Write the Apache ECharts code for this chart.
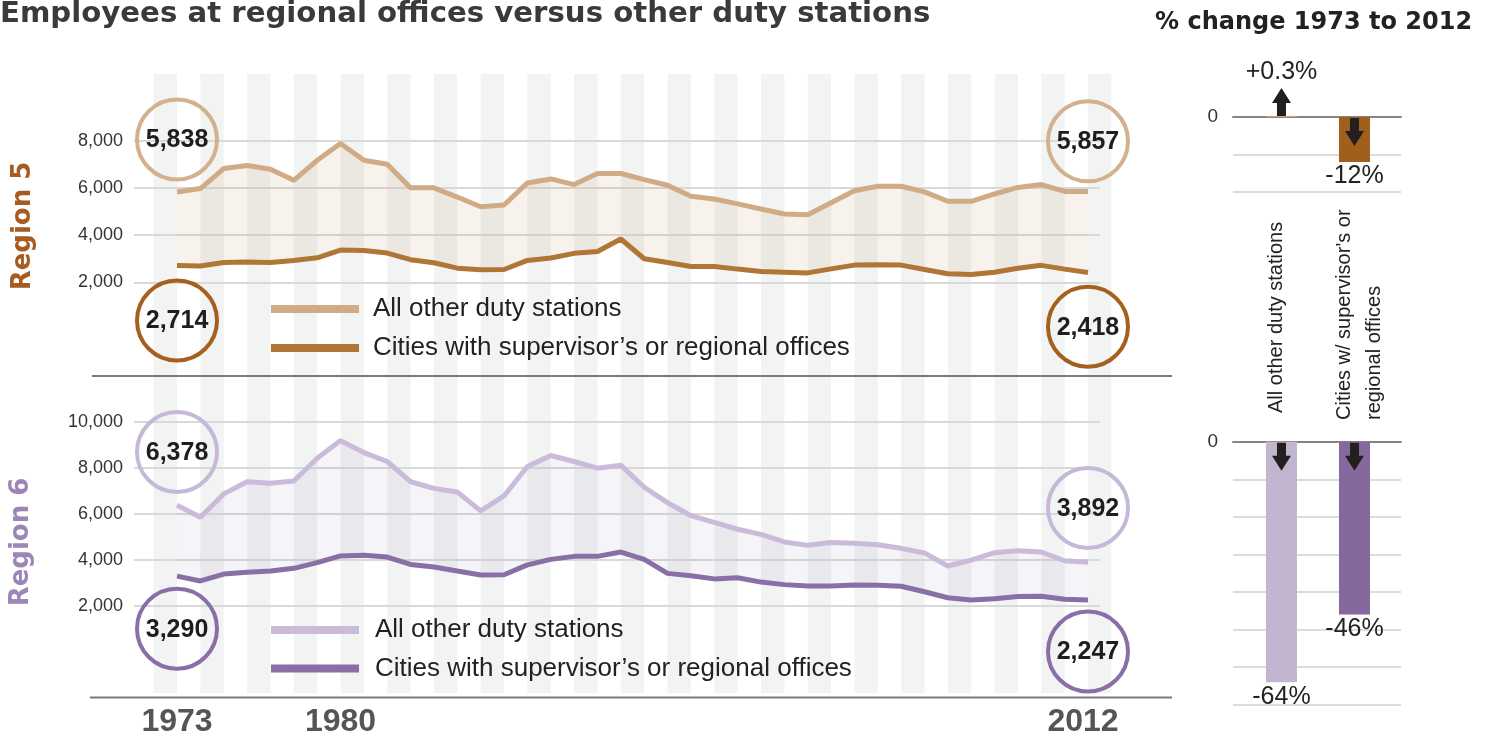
<!DOCTYPE html>
<html>
<head>
<meta charset="utf-8">
<script src="https://cdn.jsdelivr.net/npm/echarts@6/dist/echarts.min.js"></script>
<style>
html,body{margin:0;padding:0;background:#fff;}
#c{width:1487px;height:736px;}
</style>
</head>
<body>
<div id="c"></div>
<script>
// ---------- data ----------
const years = [1973,1974,1975,1976,1977,1978,1979,1980,1981,1982,1983,1984,1985,1986,1987,1988,1989,1990,1991,1992,
               1993,1994,1995,1996,1997,1998,1999,2000,2001,2002,2003,2004,2005,2006,2007,2008,2009,2010,2011,2012];
const r5Other  = [5838,5980,6830,6960,6800,6330,7180,7890,7180,7010,6010,6010,5620,5210,5280,6220,6390,6150,6620,6620,
                  6360,6120,5650,5540,5330,5110,4900,4870,5380,5890,6080,6080,5840,5440,5440,5750,6030,6150,5860,5857];
const r5Cities = [2714,2690,2840,2860,2840,2930,3040,3370,3350,3240,2960,2830,2600,2530,2545,2930,3030,3230,3310,3840,
                  3000,2840,2670,2670,2560,2460,2430,2400,2570,2730,2740,2730,2545,2360,2330,2430,2600,2720,2560,2418];
const r6Other  = [6378,5850,6870,7400,7330,7430,8420,9190,8670,8280,7400,7110,6950,6130,6780,8060,8540,8280,7990,8120,
                  7160,6490,5920,5630,5330,5110,4780,4630,4750,4720,4660,4500,4300,3730,3990,4310,4400,4340,3960,3892];
const r6Cities = [3290,3080,3380,3460,3510,3630,3880,4170,4200,4120,3800,3690,3510,3340,3350,3780,4020,4150,4150,4340,
                  4020,3410,3310,3170,3220,3030,2920,2860,2860,2900,2890,2850,2610,2350,2250,2310,2400,2410,2280,2247];
const seriesNames = ['All other duty stations', 'Cities with supervisor\u2019s or regional offices'];
const changeCats = ['All other duty stations', "Cities w/ supervisor's or", 'regional offices'];
const r5Change = [0.3, -12];
const r6Change = [-64, -46];
const yearLabels = [1973, 1980, 2012];
const regionNames = ['Region 5', 'Region 6'];

// ---------- styling ----------
const C5 = {other:'#d1ab85', cities:'#b07636', circOther:'#d4b18e', circCities:'#a6601d', bar:['#cfa87f','#a0601c'], fill:'rgba(190,150,100,0.12)', title:'#a65c20'};
const C6 = {other:'#c9bbd9', cities:'#8a6fa7', circOther:'#c6b8d7', circCities:'#8a6ea7', bar:['#c1b5d0','#84699e'], fill:'rgba(130,120,170,0.08)', title:'#9c86b8'};
const FF = "'Liberation Sans', Arial, sans-serif";
const fmt = v => v.toLocaleString('en-US');

const xMin = 1971.159, xMax = 2012.514;

function regionSeries(idx, other, cities, col) {
  const pair = arr => arr.map((v,i) => [years[i], v]);
  return [
    {type:'custom', xAxisIndex:idx, yAxisIndex:idx, silent:true, z:2,
     data:[[years[0], cities[0]]],
     renderItem:(params, api) => {
       const pts = [];
       other.forEach((v,i) => pts.push(api.coord([years[i], v])));
       for (let i = cities.length - 1; i >= 0; i--) pts.push(api.coord([years[i], cities[i]]));
       return {type:'polygon', shape:{points:pts}, style:{fill:col.fill}};
     }},
    {type:'line', name:seriesNames[0], xAxisIndex:idx, yAxisIndex:idx, data: pair(other), symbol:'none',
     lineStyle:{color:col.other, width:5}, z:3},
    {type:'line', name:seriesNames[1], xAxisIndex:idx, yAxisIndex:idx, data: pair(cities), symbol:'none',
     lineStyle:{color:col.cities, width:5}, z:4}
  ];
}

function barSeries(idx, vals, col) {
  return {
    type:'bar', xAxisIndex:idx, yAxisIndex:idx, barWidth:31, clip:false, z:3,
    data: vals.map((v,i) => ({
      value:[i, v],
      itemStyle:{color: col.bar[i]},
      label:{show:true, position: v >= 0 ? 'top' : 'bottom', distance: v >= 0 ? 31 : 2,
             formatter: () => (v > 0 ? '+' : '') + v + '%',
             fontFamily: FF, fontSize: 25, color:'#222'}
    }))
  };
}

const hiddenX = (gi) => ({gridIndex:gi, type:'value', min:xMin, max:xMax, show:false});
const regionY = (gi, max) => ({
  gridIndex:gi, type:'value', min:0, max:max, interval:2000, z:1,
  axisLine:{show:false}, axisTick:{show:false},
  axisLabel:{showMinLabel:false, margin:11, fontFamily:FF, fontSize:18, color:'#333', formatter: v => fmt(v)},
  splitLine:{show:true, showMinLine:false, lineStyle:{color:'#d9d9d9', width:2}}
});
const barX = (gi) => ({gridIndex:gi, type:'value', min:-0.664, max:1.637, position:'top',
  axisLine:{show:true, onZero:true, lineStyle:{color:'#858585', width:2}},
  axisTick:{show:false}, axisLabel:{show:false}, splitLine:{show:false}, z:2});
const barY = (gi, min) => ({gridIndex:gi, type:'value', min:min, max:0, interval:10,
  axisLine:{show:false}, axisTick:{show:false},
  axisLabel:{margin:15, fontFamily:FF, fontSize:19, color:'#333', formatter: v => v === 0 ? '0' : ''},
  splitLine:{show:true, lineStyle:{color:'#dcdcdc', width:2}}});

const chart = echarts.init(document.getElementById('c'), null, {renderer:'canvas'});
const option = {
  animation:false,
  backgroundColor:'#fff',
  grid:[
    {left:153.64, top:74, width:957.76, height:619},
    {left:134, top:141, width:966, height:188.4},
    {left:134, top:422, width:966, height:229.7},
    {left:1233, top:117, width:168, height:75},
    {left:1233, top:441.8, width:168, height:262.9}
  ],
  xAxis:[
    {gridIndex:0, type:'value', min:1972, max:2013, interval:1, z:0,
     axisLine:{show:false}, axisTick:{show:false}, axisLabel:{show:false}, splitLine:{show:false},
     splitArea:{show:true, areaStyle:{color:['#f2f4f3','rgba(255,255,255,0)']}}},
    hiddenX(1), hiddenX(2), barX(3), barX(4)
  ],
  yAxis:[
    {gridIndex:0, type:'value', min:0, max:1, show:false},
    regionY(1, 8000), regionY(2, 10000), barY(3, -20), barY(4, -70)
  ],
  series:[
    ...regionSeries(1, r5Other, r5Cities, C5),
    ...regionSeries(2, r6Other, r6Cities, C6),
    barSeries(3, r5Change, C5),
    barSeries(4, r6Change, C6)
  ]
};
chart.setOption(option);

// ---------- annotations ----------
const xp = (axis, yr) => chart.convertToPixel({xAxisIndex:axis}, yr);
const bp = (gi, xv, yv) => chart.convertToPixel({xAxisIndex:gi, yAxisIndex:gi}, [xv, yv]);
const g = [];
const txt = (text, x, y, font, fill, align, valign, extra) => Object.assign({
  type:'text', x:x, y:y, z:20,
  style:{text:text, x:0, y:0, font:font, fill:fill, textAlign:align||'left', textVerticalAlign:valign||'middle'}
}, extra||{});

// titles
g.push(txt('Employees at regional offices versus other duty stations', 0, 14, "bold 29.2px 'DejaVu Sans'", '#3a3a3a', 'left', 'middle'));
g.push(txt('% change 1973 to 2012', 1155, 23, "bold 24px 'DejaVu Sans'", '#222', 'left', 'middle'));

// region names
g.push(txt(regionNames[0], 23, 226, "bold 26px 'DejaVu Sans'", C5.title, 'center', 'middle', {rotation:Math.PI/2}));
g.push(txt(regionNames[1], 21, 542, "bold 26px 'DejaVu Sans'", C6.title, 'center', 'middle', {rotation:Math.PI/2}));

// separator lines
g.push({type:'line', z:15, shape:{x1:92, y1:376, x2:1172, y2:376}, style:{stroke:'#7a7a7a', lineWidth:2}});
g.push({type:'line', z:15, shape:{x1:90, y1:697.5, x2:1172, y2:697.5}, style:{stroke:'#7a7a7a', lineWidth:2}});

// legends
function legend(col, y1, y2, tx) {
  g.push({type:'line', z:15, shape:{x1:271, y1:y1, x2:359, y2:y1}, style:{stroke:col.other, lineWidth:8}});
  g.push({type:'line', z:15, shape:{x1:271, y1:y2, x2:359, y2:y2}, style:{stroke:col.cities, lineWidth:8}});
  g.push(txt(seriesNames[0], tx, y1, "26px 'Liberation Sans'", '#222', 'left', 'middle'));
  g.push(txt(seriesNames[1], tx, y2, "26px 'Liberation Sans'", '#222', 'left', 'middle'));
}
legend(C5, 309, 348, 373);
legend(C6, 630, 668.5, 375);

// end-value circles
const last = years.length - 1;
function circ(yr, cy, val, color) {
  const cx = xp(1, yr);
  g.push({type:'circle', z:16, shape:{cx:cx, cy:cy, r:40}, style:{fill:'none', stroke:color, lineWidth:4}});
  g.push(txt(fmt(val), cx, cy + 1, "bold 25px 'Liberation Sans'", '#1e1e1e', 'center', 'middle'));
}
circ(years[0], 139.5, r5Other[0], C5.circOther);
circ(years[0], 320.5, r5Cities[0], C5.circCities);
circ(years[last], 141.3, r5Other[last], C5.circOther);
circ(years[last], 326.7, r5Cities[last], C5.circCities);
circ(years[0], 452, r6Other[0], C6.circOther);
circ(years[0], 628.7, r6Cities[0], C6.circCities);
circ(years[last], 508, r6Other[last], C6.circOther);
circ(years[last], 651.5, r6Cities[last], C6.circCities);

// x year labels
yearLabels.forEach(y => {
  g.push(txt(String(y), xp(2, y) + (y === 2012 ? -5 : 0), 722, "bold 32px 'Liberation Sans'", '#555', 'center', 'middle'));
});

// arrows
function arrow(cx, y0, dir) {
  const L = 28, sh = 13, sw = 4.5, hw = 9.5;
  return {type:'polygon', z:18, shape:{points:[
    [cx-sw, y0], [cx+sw, y0], [cx+sw, y0+dir*sh], [cx+hw, y0+dir*sh], [cx, y0+dir*L], [cx-hw, y0+dir*sh], [cx-sw, y0+dir*sh]
  ]}, style:{fill:'#231f20'}};
}
[[3, r5Change], [4, r6Change]].forEach(([gi, vals]) => {
  vals.forEach((v, i) => {
    const p = bp(gi, i, 0);
    g.push(arrow(p[0], v >= 0 ? p[1] - 1 : p[1] + 1, v >= 0 ? -1 : 1));
  });
});

// vertical category labels for the % change bars
const b0 = bp(4, 0, 0), b1 = bp(4, 1, 0);
g.push(txt(changeCats[0], b0[0] - 5, 413, "20px 'Liberation Sans'", '#222', 'left', 'middle', {rotation:Math.PI/2}));
g.push(txt(changeCats[1], b1[0] - 10, 420, "20px 'Liberation Sans'", '#222', 'left', 'middle', {rotation:Math.PI/2}));
g.push(txt(changeCats[2], b1[0] + 19.5, 420, "20px 'Liberation Sans'", '#222', 'left', 'middle', {rotation:Math.PI/2}));

chart.setOption({graphic:{elements:g}});
</script>
</body>
</html>
